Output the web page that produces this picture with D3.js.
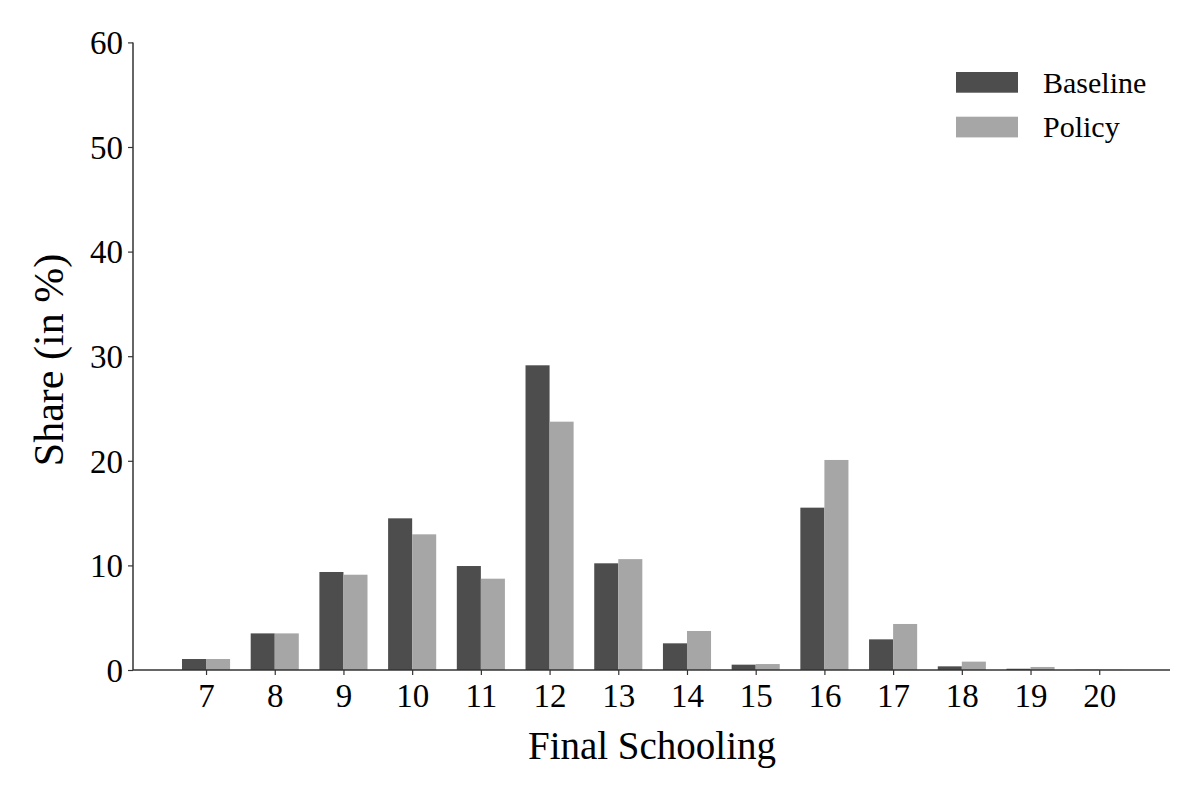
<!DOCTYPE html>
<html><head><meta charset="utf-8">
<script src="https://cdn.jsdelivr.net/npm/d3@7"></script>
<style>body{margin:0;background:#fff}svg{display:block}text{font-family:"Liberation Serif","DejaVu Serif",serif;fill:#000}</style>
</head><body><svg id="c" width="1200" height="800"></svg>
<script>
const categories = [7,8,9,10,11,12,13,14,15,16,17,18,19,20];
const baseline = [1.05,3.5,9.37,14.5,9.94,29.13,10.2,2.55,0.51,15.52,2.93,0.35,0.12,0.02];
const policy   = [1.05,3.5,9.11,12.97,8.73,23.74,10.6,3.73,0.57,20.08,4.4,0.8,0.29,0.02];
const yTicks = [0,10,20,30,40,50,60];
const seriesNames = ["Baseline","Policy"];
const colors = ["#4d4d4d","#a6a6a6"];

const svg = d3.select("#c");
const x = d3.scaleLinear().domain([5.937,21.03]).range([133,1170]);
const y = d3.scaleLinear().domain([0,60]).range([670,42.4]);
const bw = 0.35;

const g = svg.append("g");
g.selectAll("rect.b").data(categories).join("rect")
  .attr("x", (d)=>x(d-bw)).attr("width", (d)=>x(d)-x(d-bw))
  .attr("y", (d,i)=>y(baseline[i])).attr("height",(d,i)=>y(0)-y(baseline[i]))
  .attr("fill", colors[0]);
g.selectAll("rect.p").data(categories).join("rect")
  .attr("x", (d)=>x(d)).attr("width", (d)=>x(d+bw)-x(d))
  .attr("y", (d,i)=>y(policy[i])).attr("height",(d,i)=>y(0)-y(policy[i]))
  .attr("fill", colors[1]);

const xAxis = svg.append("g").attr("transform","translate(0,670)")
  .call(d3.axisBottom(x).tickValues(categories).tickSize(5).tickPadding(9).tickFormat(d3.format("d")));
const yAxis = svg.append("g").attr("transform","translate(133,0)")
  .call(d3.axisLeft(y).tickValues(yTicks).tickSize(5).tickPadding(5));
[xAxis,yAxis].forEach(a=>{
  a.select(".domain").attr("stroke","#333").attr("stroke-width",1.5);
  a.selectAll(".tick line").attr("stroke","#333").attr("stroke-width",1.2);
  a.selectAll("text").style("font-family",'"Liberation Serif",serif').style("font-size","33px").attr("fill","#000");
});
xAxis.select(".domain").attr("d","M133,0H1170");
yAxis.select(".domain").attr("d","M0,42.4V670");
yAxis.selectAll(".tick text").attr("dy","0.34em");

svg.append("text").attr("x",652).attr("y",759).attr("text-anchor","middle")
  .style("font-size","39px").text("Final Schooling");
svg.append("text").attr("transform","translate(63,360) rotate(-90)").attr("text-anchor","middle")
  .style("font-size","42px").text("Share (in %)");

const leg = svg.append("g");
seriesNames.forEach((n,i)=>{
  const yy = 72 + i*44.7;
  leg.append("rect").attr("x",956).attr("y",yy).attr("width",62).attr("height",20.7).attr("fill",colors[i]);
  leg.append("text").attr("x",1043).attr("y",yy+20.7).style("font-size","30px").text(n);
});
</script></body></html>
